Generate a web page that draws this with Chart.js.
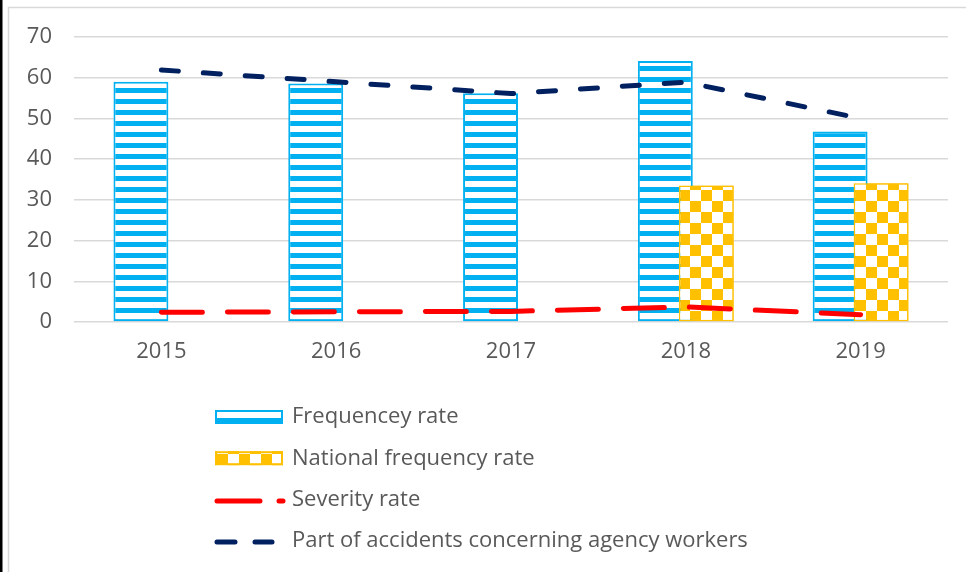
<!DOCTYPE html>
<html>
<head>
<meta charset="utf-8">
<script src="https://cdn.jsdelivr.net/npm/chart.js@4/dist/chart.umd.min.js"></script>
<style>
  html, body { margin: 0; padding: 0; background: #fff; }
  canvas { display: block; }
</style>
</head>
<body>
<canvas id="chart" width="966" height="572"></canvas>
<script>
// Accident statistics 2015-2019
const categories = ['2015', '2016', '2017', '2018', '2019'];
const frequencyRate = [59.0, 58.6, 56.2, 64.1, 46.8];
const nationalFrequencyRate = [null, null, null, 33.5, 34.1];
const severityRate = [2.4, 2.5, 2.6, 3.7, 1.8];
const agencyWorkersShare = [61.9, 59.0, 56.1, 58.9, 50.0];
const seriesNames = [
  'Frequencey rate',
  'National frequency rate',
  'Severity rate',
  'Part of accidents concerning agency workers'
];
const yAxisMin = 0, yAxisMax = 70, yAxisStep = 10;

const BLUE = '#00B0F0', GOLD = '#FFC000', RED = '#FF0000', NAVY = '#002060';
const TEXT = '#595959', GRID = '#D9D9D9';
const FONT = "'Open Sans', 'Noto Sans', sans-serif";
const FONT_SIZE = 22;

const canvas = document.getElementById('chart');
const ctx = canvas.getContext('2d');

// Horizontal stripes fill (blue on white)
function stripePattern() {
  const c = document.createElement('canvas');
  c.width = 8; c.height = 11;
  const g = c.getContext('2d');
  g.fillStyle = '#fff'; g.fillRect(0, 0, 8, 11);
  g.fillStyle = BLUE; g.fillRect(0, 0, 8, 5);
  return ctx.createPattern(c, 'repeat');
}

// Checkerboard fill (gold on white)
function checkerPattern() {
  const s = 11;
  const c = document.createElement('canvas');
  c.width = 2 * s; c.height = 2 * s;
  const g = c.getContext('2d');
  g.fillStyle = '#fff'; g.fillRect(0, 0, 2 * s, 2 * s);
  g.fillStyle = GOLD;
  g.fillRect(0, 0, s, s);
  g.fillRect(s, s, s, s);
  const p = ctx.createPattern(c, 'repeat');
  if (p.setTransform) p.setTransform(new DOMMatrix([1, 0, 0, 1, 8, 3]));
  return p;
}

const stripes = stripePattern();
const checker = checkerPattern();

// Outer frame of the figure
const framePlugin = {
  id: 'frame',
  beforeDraw(chart) {
    const c = chart.ctx;
    c.save();
    c.fillStyle = '#fff';
    c.fillRect(0, 0, chart.width, chart.height);
    c.fillStyle = '#000';
    c.fillRect(0, 0, 2.5, chart.height);
    c.strokeStyle = GRID;
    c.lineWidth = 1.5;
    c.beginPath();
    c.moveTo(8.5, chart.height);
    c.lineTo(8.5, 7.5);
    c.lineTo(chart.width, 7.5);
    c.stroke();
    c.restore();
  }
};

// The national series overlaps the right part of the company bar: paint it again on top
const overlapPlugin = {
  id: 'overlap',
  afterDatasetDraw(chart, args) {
    if (args.index === 0) {
      const meta = chart.getDatasetMeta(1);
      if (meta && !meta.hidden) meta.controller.draw();
    }
  }
};

// Legend as a vertical list under the axis
const legendPlugin = {
  id: 'stackedLegend',
  afterDraw(chart) {
    const c = chart.ctx;
    const x0 = 215, w = 68, h = 14, textX = 292;
    const firstBaseline = 423.3, rowGap = 41.2;
    c.save();
    c.font = FONT_SIZE + 'px ' + FONT;
    c.textBaseline = 'alphabetic';
    c.textAlign = 'left';
    chart.data.datasets.forEach((ds, i) => {
      const base = firstBaseline + i * rowGap;
      const mid = base - 6.3;
      if (ds.type === 'bar') {
        c.fillStyle = ds.backgroundColor;
        c.fillRect(x0, mid - h / 2, w, h);
        c.strokeStyle = ds.borderColor;
        c.lineWidth = 2;
        c.strokeRect(x0 + 1, mid - h / 2 + 1, w - 2, h - 2);
      } else {
        c.strokeStyle = ds.borderColor;
        c.lineWidth = ds.borderWidth;
        c.lineCap = 'round';
        c.setLineDash(ds.legendDash);
        c.beginPath();
        c.moveTo(x0 + 2, mid + 1.5);
        c.lineTo(x0 + ds.legendLength, mid + 1.5);
        c.stroke();
        c.setLineDash([]);
      }
      c.fillStyle = TEXT;
      c.fillText(ds.label, textX, base);
    });
    c.restore();
  }
};

Chart.defaults.font.family = FONT;
Chart.defaults.font.size = FONT_SIZE;
Chart.defaults.color = TEXT;

new Chart(ctx, {
  data: {
    labels: categories,
    datasets: [
      {
        type: 'bar',
        label: seriesNames[0],
        data: frequencyRate,
        backgroundColor: stripes,
        borderColor: BLUE,
        borderWidth: 2,
        borderSkipped: false,
        categoryPercentage: 0.4686,
        barPercentage: 1.341,
        order: 0
      },
      {
        type: 'bar',
        label: seriesNames[1],
        data: nationalFrequencyRate,
        backgroundColor: checker,
        borderColor: GOLD,
        borderWidth: 1.5,
        borderSkipped: false,
        categoryPercentage: 0.4686,
        barPercentage: 1.341,
        order: 0
      },
      {
        type: 'line',
        label: seriesNames[2],
        data: severityRate,
        borderColor: RED,
        borderWidth: 5,
        borderDash: [41, 25],
        borderCapStyle: 'round',
        borderJoinStyle: 'round',
        pointRadius: 0,
        tension: 0,
        fill: false,
        legendDash: [43, 19],
        legendLength: 68,
        order: -1
      },
      {
        type: 'line',
        label: seriesNames[3],
        data: agencyWorkersShare,
        borderColor: NAVY,
        borderWidth: 5,
        borderDash: [17, 25],
        borderCapStyle: 'round',
        borderJoinStyle: 'round',
        pointRadius: 0,
        tension: 0,
        fill: false,
        legendDash: [18, 20],
        legendLength: 57,
        order: -1
      }
    ]
  },
  options: {
    responsive: false,
    animation: false,
    devicePixelRatio: 1,
    layout: { padding: { left: 0, top: 37, right: 18, bottom: 200 } },
    plugins: {
      legend: { display: false },
      tooltip: { enabled: false }
    },
    scales: {
      x: {
        type: 'category',
        offset: true,
        grid: { display: false, drawTicks: false },
        border: { display: false },
        ticks: { padding: 17, color: TEXT, font: { size: FONT_SIZE } },
        afterFit(scale) { scale.height = 50; }
      },
      y: {
        min: yAxisMin,
        max: yAxisMax,
        grid: { color: GRID, lineWidth: 1.5, drawTicks: false },
        border: { display: false },
        ticks: { stepSize: yAxisStep, padding: 22, color: TEXT, font: { size: FONT_SIZE } },
        afterFit(scale) { scale.width = 74; }
      }
    }
  },
  plugins: [framePlugin, overlapPlugin, legendPlugin]
});
</script>
</body>
</html>
